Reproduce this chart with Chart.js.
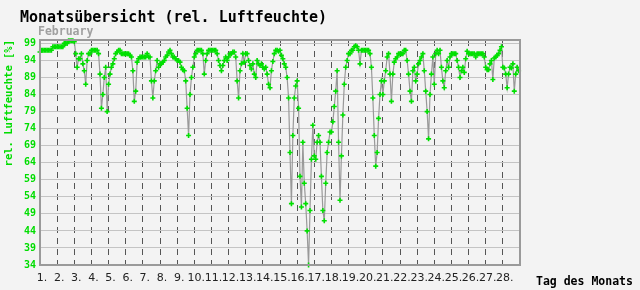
<!DOCTYPE html>
<html>
<head>
<meta charset="utf-8">
<script src="https://cdn.jsdelivr.net/npm/chart.js@4/dist/chart.umd.min.js"></script>
<style>
  html, body { margin: 0; padding: 0; background: #f3f3f3; }
  canvas { display: block; }
</style>
</head>
<body>
<canvas id="chart" width="640" height="290"></canvas>
<script>
// Monatsübersicht Februar, rel. Luftfeuchte, 12 Werte pro Tag (alle 2 Std.)
const samplesPerDay = 12;
const dayLabels = Array.from({ length: 28 }, (_, i) => (i + 1) + '.');
const yTicks = [34, 39, 44, 49, 54, 59, 64, 69, 74, 79, 84, 89, 94, 99];

const humidity = [
  96.5, 97, 97, 97, 97, 97, 97, 97, 97, 98, 98, 98,            // 1.
  98, 98, 98, 98, 98, 99, 99, 99, 99.8, 99.8, 99.8, 99.8,      // 2.
  99.5, 96, 92, 94.5, 94.5, 96, 93, 91, 87, 94, 96, 96,        // 3.
  97, 97, 97, 97, 97, 96, 90, 80, 84, 89, 92, 79,              // 4.
  87, 90, 92, 93, 94.5, 96, 96.5, 97, 97, 96, 96, 96,          // 5.
  96, 96, 96, 95.5, 95, 91, 82, 85, 93.5, 94.5, 95, 95,        // 6.
  95, 95, 95, 96, 95, 95, 88, 83, 88, 91, 94, 92,              // 7.
  93, 93, 93.5, 94, 95, 95.5, 96.5, 97, 96, 95, 95, 94.5,      // 8.
  94, 94, 93.5, 92, 91.3, 91, 88, 80, 72, 84, 89, 92,          // 9.
  95, 96, 97, 97, 97, 97, 96, 90, 94, 96, 97, 97,              // 10.
  97, 97, 97, 97, 96, 94, 92.5, 91, 92.5, 94, 95, 94,          // 11.
  95, 96, 96, 96.5, 96.5, 95, 88, 83, 91, 93, 96, 93.5,        // 12.
  96, 96, 94, 92.5, 91.5, 93, 90, 89, 94, 93, 92.5, 93,        // 13.
  92, 91.5, 92, 90, 87, 86, 91, 93.7, 96, 97, 97, 96.7,        // 14.
  97, 95.5, 94.5, 93, 92, 89, 83, 67, 52, 72, 83, 86.5,        // 15.
  88, 80, 60, 51, 70, 58, 52, 44, 34, 50, 65, 75,              // 16.
  66, 65, 70, 72, 70, 60, 50, 47, 58, 67, 70, 73,              // 17.
  73, 76, 80.5, 85, 91, 70, 53, 66, 78, 87, 92, 94,            // 18.
  96, 96, 97, 97, 98, 98.3, 98, 97, 93, 97, 97, 97,            // 19.
  97, 97, 97, 96, 92, 83, 72, 63, 67, 77, 84, 88,              // 20.
  84, 88, 91, 95, 96, 90, 82, 90, 93.5, 94.5, 95, 96,          // 21.
  96, 96, 96, 97, 97, 94, 90, 85, 82, 91, 92, 88,              // 22.
  90, 93, 94, 95, 96, 91, 85, 79, 71, 84, 90, 95,              // 23.
  87, 96, 97, 96, 97, 92, 88, 86, 91, 94, 92, 95,              // 24.
  96, 96, 96, 96, 94, 92, 89, 91, 92, 90.5, 94.5, 96.7,        // 25.
  96, 96, 96, 96, 96, 95, 96, 96, 96, 96, 96, 95,              // 26.
  92, 91.3, 91.3, 93, 94, 88.4, 94.7, 95, 95.5, 96, 97, 98,    // 27.
  92, 91.8, 90, 86, 90, 92, 91.8, 93, 85, 90, 92, 91           // 28.
];

const points = humidity.map((v, i) => ({ x: i / samplesPerDay, y: v }));

// Hintergrund, Rahmen und Beschriftungen
const frame = {
  id: 'frame',
  beforeDraw(chart) {
    const ctx = chart.ctx;
    ctx.save();
    ctx.fillStyle = '#f3f3f3';
    ctx.fillRect(0, 0, chart.width, chart.height);
    ctx.restore();
  },
  afterDraw(chart) {
    const ctx = chart.ctx;
    const a = chart.chartArea;
    ctx.save();
    ctx.strokeStyle = '#9a9a9a';
    ctx.lineWidth = 2;
    ctx.strokeRect(a.left, a.top, a.right - a.left, a.bottom - a.top);

    ctx.textBaseline = 'middle';
    ctx.textAlign = 'left';
    ctx.fillStyle = '#000';
    ctx.font = 'bold 15px "DejaVu Sans Mono"';
    ctx.fillText('Monatsübersicht (rel. Luftfeuchte)', 20, 18);

    ctx.fillStyle = '#a0a0a0';
    ctx.font = 'bold 11.5px "DejaVu Sans Mono"';
    ctx.fillText('February', 38, 32);

    ctx.fillStyle = '#000';
    ctx.fillText('Tag des Monats', 536, 282);

    ctx.translate(9, a.top);
    ctx.rotate(-Math.PI / 2);
    ctx.textAlign = 'right';
    ctx.fillStyle = '#00dd00';
    ctx.font = 'bold 10.5px "DejaVu Sans Mono"';
    ctx.fillText('rel. Luftfeuchte [%]', 0, 0);
    ctx.restore();
  }
};

new Chart(document.getElementById('chart'), {
  type: 'line',
  data: {
    datasets: [{
      data: points,
      borderColor: '#999',
      borderWidth: 1.2,
      tension: 0,
      pointStyle: 'cross',
      pointRadius: 2.5,
      pointBorderWidth: 1.6,
      pointBorderColor: '#00e000',
      pointBackgroundColor: '#00e000',
      clip: 4
    }]
  },
  options: {
    responsive: false,
    animation: false,
    events: [],
    layout: { padding: { top: 40, right: 120, left: 0, bottom: 0 } },
    plugins: { legend: { display: false }, tooltip: { enabled: false } },
    scales: {
      x: {
        type: 'linear',
        min: 0,
        max: 28,
        afterBuildTicks: s => { s.ticks = dayLabels.map((_, i) => ({ value: i })); },
        afterFit: s => { s.height = 25; },
        grid: { color: '#555', lineWidth: 1, drawTicks: false },
        border: { display: false, dash: [6, 5] },
        ticks: {
          callback: v => dayLabels[v],
          color: '#222',
          font: { family: 'DejaVu Sans', size: 11 },
          maxRotation: 0,
          autoSkip: false,
          padding: 7,
          labelOffset: 2
        }
      },
      y: {
        min: 34,
        max: 100,
        afterBuildTicks: s => { s.ticks = yTicks.map(v => ({ value: v })); },
        afterFit: s => { s.width = 40; },
        grid: { color: '#c4c4c4', lineWidth: 1, drawTicks: false },
        border: { display: false },
        ticks: {
          color: '#00dd00',
          font: { family: 'DejaVu Sans Mono', size: 10, weight: 'bold' },
          padding: 4
        }
      }
    }
  },
  plugins: [frame]
});
</script>
</body>
</html>
